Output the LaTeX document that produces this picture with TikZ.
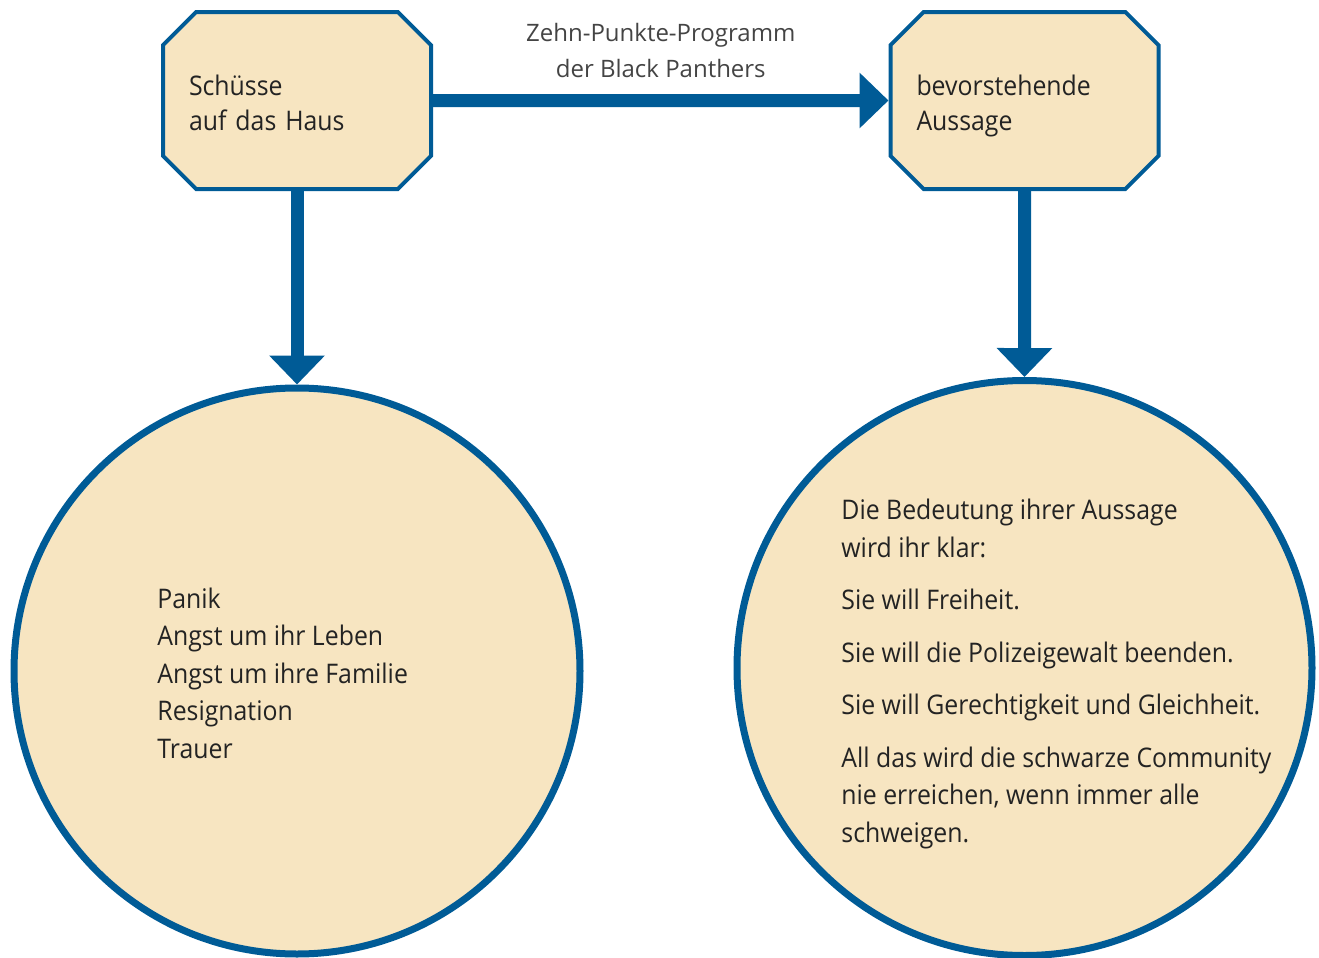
\documentclass[tikz,border=0pt]{standalone}
\usepackage{fontspec}
\setmainfont{Open Sans}[FakeStretch=0.92]
\newfontfamily\beschriftung{Open Sans}
\usepackage{xcolor}
\usetikzlibrary{arrows.meta,shapes.misc}
\definecolor{blau}{RGB}{0,91,150}
\definecolor{sand}{RGB}{247,229,193}
\definecolor{schrift}{RGB}{35,35,35}
\tikzset{
    ecke/.style={chamfered rectangle, chamfered rectangle xsep=13pt, draw=blau, line width=2pt, fill=sand,
        inner xsep=0pt, minimum width=134pt, minimum height=88.5pt, text width=108pt, align=left, text=schrift,
        font=\fontsize{13.5}{17.5}\selectfont,
        execute at begin node={\rule{0pt}{15.5pt}}, execute at end node={\rule[-3.5pt]{0pt}{0pt}}},
    kreis/.style={circle, draw=blau, line width=3.5pt, fill=sand},
    inhalt/.style={anchor=west, inner sep=0pt, align=left, text=schrift, font=\fontsize{13.5}{18.75}\selectfont},
    pfeil/.style={draw=blau, line width=6.5pt, -{Triangle[width=27pt 0 0, length=14.5pt 0 0]}}
}
\begin{document}
\begin{tikzpicture}[x=0.5pt, y=-0.5pt]
    \useasboundingbox (0,0) rectangle (1319,958);

    \node[ecke] (schuesse) at (297,100.5) {Schüsse\\auf das Haus};
    \node[ecke] (aussage) at (1024.5,100.5) {bevorstehende\\Aussage};

    \node[kreis, minimum size=283pt] (gefuehle) at (297,671) {};
    \node[kreis, minimum size=287.5pt] (bedeutung) at (1024.5,668) {};

    \node[inhalt] (gefuehletext) at (157,673) {Panik\\Angst um ihr Leben\\Angst um ihre Familie\\Resignation\\Trauer};
    \node[inhalt] (bedeutungtext) at (841,674) {Die Bedeutung ihrer Aussage\\wird ihr klar:\\[7.5pt]
        Sie will Freiheit.\\[7.5pt]
        Sie will die Polizeigewalt beenden.\\[7.5pt]
        Sie will Gerechtigkeit und Gleichheit.\\[7.5pt]
        All das wird die schwarze Community\\nie erreichen, wenn immer alle\\schweigen.};

    \draw[pfeil] (schuesse) -- node[above=5pt, align=center, text=schrift!85, font=\beschriftung\fontsize{12}{18}\selectfont] (programm) {Zehn-Punkte-Programm\\der Black Panthers} (aussage);
    \draw[pfeil] (schuesse) -- (gefuehle);
    \draw[pfeil] (aussage) -- (bedeutung);
\end{tikzpicture}
\end{document}
